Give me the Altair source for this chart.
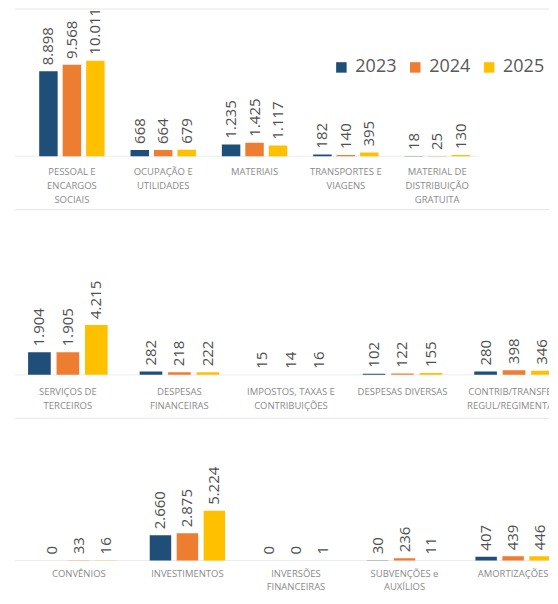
import altair as alt
import pandas as pd

YEARS = ["2023", "2024", "2025"]
COLORS = ["#1F4E79", "#ED7D31", "#FFC000"]

row1_categories = ["PESSOAL E\nENCARGOS\nSOCIAIS", "OCUPAÇÃO E\nUTILIDADES", "MATERIAIS",
                   "TRANSPORTES E\nVIAGENS", "MATERIAL DE\nDISTRIBUIÇÃO\nGRATUITA"]
row1_2023 = [8898, 668, 1235, 182, 18]
row1_2024 = [9568, 664, 1425, 140, 25]
row1_2025 = [10011, 679, 1117, 395, 130]

row2_categories = ["SERVIÇOS DE\nTERCEIROS", "DESPESAS\nFINANCEIRAS", "IMPOSTOS, TAXAS E\nCONTRIBUIÇÕES",
                   "DESPESAS DIVERSAS", "CONTRIB/TRANSFER.\nREGUL/REGIMENTAIS"]
row2_2023 = [1904, 282, 15, 102, 280]
row2_2024 = [1905, 218, 14, 122, 398]
row2_2025 = [4215, 222, 16, 155, 346]

row3_categories = ["CONVÊNIOS", "INVESTIMENTOS", "INVERSÕES\nFINANCEIRAS", "SUBVENÇÕES e\nAUXÍLIOS", "AMORTIZAÇÕES"]
row3_2023 = [0, 2660, 0, 30, 407]
row3_2024 = [33, 2875, 0, 236, 439]
row3_2025 = [16, 5224, 1, 11, 446]

FONT = "Open Sans"
W = 542


def fmt(v):
    return f"{v:,}".replace(",", ".")


def make_row(cats, v23, v24, v25, height, base, per_px, xrange, bar_w, bar_step, line_end,
             label_dy, line_h, legend):
    recs = []
    for c, a, b, d in zip(cats, v23, v24, v25):
        for yr, v in zip(YEARS, (a, b, d)):
            recs.append({"cat": c, "year": yr, "value": v, "label": fmt(v)})
    df = pd.DataFrame(recs)
    lo = -(height - base) * per_px
    hi = base * per_px
    yscale = alt.Scale(domain=[lo, hi], nice=False, zero=False)
    xs = alt.Scale(range=xrange, paddingInner=0, paddingOuter=0)
    x = alt.X("cat:N", sort=cats, scale=xs, axis=None)
    y = alt.Y("value:Q", scale=yscale, axis=None)
    color = alt.Color("year:N", sort=YEARS, scale=alt.Scale(domain=YEARS, range=COLORS), legend=legend)

    one = pd.DataFrame({"v": [0]})
    layers = [
        alt.Chart(one).mark_rule(color="#e4e4e4", strokeWidth=1).encode(
            x=alt.value(7), x2=alt.value(W), y=alt.value(0.5)),
        alt.Chart(one).mark_rule(color="#ececec", strokeWidth=1).encode(
            x=alt.value(7), x2=alt.value(line_end), y=alt.Y("v:Q", scale=yscale, axis=None)),
    ]
    for i, yr in enumerate(YEARS):
        off = (i - 1) * bar_step
        sub = df[df["year"] == yr]
        layers.append(alt.Chart(sub).mark_bar(clip=True, width=bar_w, xOffset=off).encode(
            x=x, y=y, color=color))
        layers.append(alt.Chart(sub).mark_text(clip=True, angle=270, align="left", baseline="middle",
                                               dx=6, xOffset=off, font=FONT, fontSize=15,
                                               color="#505050").encode(x=x, y=y, text="label:N"))
    cdf = pd.DataFrame({"cat": cats})
    layers.append(alt.Chart(cdf).mark_text(clip=True, align="center", baseline="middle", lineBreak="\n",
                                           lineHeight=line_h, font=FONT, fontSize=9.5,
                                           color="#8a8a8a").encode(
        x=x, y=alt.value(base + label_dy), text="cat:N"))
    return alt.layer(*layers).properties(width=W, height=height)


legend = alt.Legend(orient="none", legendX=325, legendY=50, direction="horizontal", title=None,
                    symbolType="square", symbolSize=110, symbolStrokeWidth=0, labelFont=FONT,
                    labelFontSize=18, labelColor="#595959", labelOffset=5, columnPadding=9, padding=0)

# row 1: abs 8 -> 209, baseline abs 156
r1 = make_row(row1_categories, row1_2023, row1_2024, row1_2025, 201, 148, 104.5,
              [18.25, 475.75], 18.5, 23.5, 472, 16, 14, legend)
# row 2: abs 209 -> 418, baseline abs 375
r2 = make_row(row2_categories, row2_2023, row2_2024, row2_2025, 209, 166, 84.3,
              [4.1, 562.85], 22.7, 28.5, W, 17, 14, None)
# row 3: abs 418 -> 592, baseline abs 561
r3 = make_row(row3_categories, row3_2023, row3_2024, row3_2025, 174, 143, 105,
              [16.6, 560.4], 21.5, 27, W, 14, 13, None)

chart = alt.vconcat(r1, r2, r3, spacing=0).properties(
    padding=0, background="white").configure_view(stroke=None)

chart.save("out.html", embed_options={"renderer": "svg", "actions": False})
